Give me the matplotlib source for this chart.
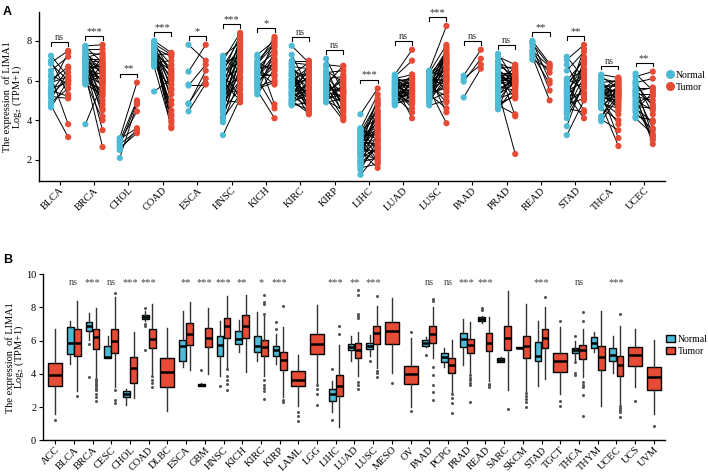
import matplotlib
matplotlib.use('Agg')
import matplotlib.pyplot as plt
from matplotlib.lines import Line2D
from matplotlib.patches import Patch

plt.rcParams['font.family'] = ['Liberation Serif', 'DejaVu Serif']
plt.rcParams['mathtext.fontset'] = 'stix'

NORMAL_C = '#4DBBD5'
TUMOR_C = '#E64B35'

# ---------------- panel A: paired samples ----------------
a_cats = ['BLCA', 'BRCA', 'CHOL', 'COAD', 'ESCA', 'HNSC', 'KICH', 'KIRC', 'KIRP',
          'LIHC', 'LUAD', 'LUSC', 'PAAD', 'PRAD', 'READ', 'STAD', 'THCA', 'UCEC']
a_sig = ['ns', '***', '**', '***', '*', '***', '*', 'ns', 'ns',
         '***', 'ns', '***', 'ns', 'ns', '**', '**', 'ns', '**']

a_normal = [
    [7.25, 7.0, 6.9, 6.85, 6.5, 6.3, 6.2, 6.0, 5.9, 5.7, 5.6, 5.5, 5.4, 5.3, 5.2, 5.1, 4.9, 4.75, 4.65],
    [7.75, 7.7, 7.6, 7.5, 7.45, 7.4, 7.3, 7.25, 7.2, 7.1, 7.05, 7.0, 6.95, 6.9, 6.85, 6.8, 6.75, 6.7, 6.65, 6.6,
     6.55, 6.5, 6.45, 6.4, 6.35, 6.3, 6.25, 6.2, 6.1, 6.05, 6.0, 5.95, 5.9, 5.85, 5.8, 6.9, 7.15, 6.6, 3.8, 7.0],
    [3.1, 3.05, 2.95, 2.9, 2.8, 2.7, 2.6, 2.5, 2.1],
    [8.0, 7.95, 7.9, 7.85, 7.8, 7.75, 7.7, 7.65, 7.6, 7.55, 7.5, 7.45, 7.4, 7.35, 7.3, 7.25, 7.2, 7.15, 7.1, 7.0,
     6.9, 6.8, 6.7, 5.45, 7.6, 7.3],
    [7.8, 6.45, 5.8, 5.75, 4.85, 4.8, 4.45],
    [7.25, 7.1, 7.0, 6.9, 6.8, 6.7, 6.6, 6.5, 6.4, 6.3, 6.2, 6.1, 6.0, 5.9, 5.8, 5.7, 5.6, 5.5, 5.4, 5.3,
     5.2, 5.1, 5.0, 4.9, 4.8, 4.7, 4.6, 4.5, 4.4, 4.2, 4.1, 4.0, 3.9, 3.25],
    [7.3, 7.2, 7.0, 6.9, 6.8, 6.7, 6.6, 6.5, 6.4, 6.3, 6.2, 6.1, 6.0, 5.9, 5.8, 5.7, 5.6, 5.5, 5.4, 5.3,
     6.85, 6.45, 6.25, 5.95],
    [7.75, 7.3, 7.0, 6.9, 6.85, 6.8, 6.7, 6.6, 6.5, 6.4, 6.35, 6.3, 6.2, 6.1, 6.05, 6.0, 5.95, 5.9, 5.85, 5.8,
     5.75, 5.7, 5.6, 5.5, 5.45, 5.4, 5.3, 5.25, 5.2, 5.1, 5.05, 5.0, 4.95, 4.9, 4.85, 4.8, 4.75, 6.25, 5.65, 5.35],
    [7.1, 6.8, 6.7, 6.5, 6.4, 6.3, 6.2, 6.1, 6.0, 5.9, 5.8, 5.7, 5.65, 5.6, 5.5, 5.45, 5.4, 5.3, 5.25, 5.2,
     5.1, 5.05, 5.0, 4.95, 4.9, 6.05, 5.55, 5.35],
    [4.3, 3.6, 3.55, 3.5, 3.45, 3.4, 3.35, 3.3, 3.25, 3.2, 3.1, 3.05, 3.0, 2.95, 2.9, 2.85, 2.8, 2.75, 2.7, 2.6,
     2.55, 2.5, 2.45, 2.4, 2.3, 2.25, 2.2, 2.1, 2.0, 1.95, 1.9, 1.8, 1.7, 1.6, 1.5, 1.25, 2.65, 3.15, 2.35, 1.85],
    [6.3, 6.25, 6.2, 6.15, 6.1, 6.05, 6.0, 5.95, 5.9, 5.85, 5.8, 5.75, 5.7, 5.65, 5.6, 5.55, 5.5, 5.45, 5.4, 5.35,
     5.3, 5.25, 5.2, 5.15, 5.1, 5.05, 5.0, 4.95, 4.9, 4.85, 4.8, 4.75, 5.6, 5.4, 5.8, 5.2, 6.0, 5.5, 5.3, 5.7],
    [6.5, 6.45, 6.4, 6.35, 6.3, 6.25, 6.2, 6.15, 6.1, 6.0, 5.95, 5.9, 5.85, 5.8, 5.75, 5.7, 5.65, 5.6, 5.55, 5.5,
     5.45, 5.4, 5.35, 5.3, 5.25, 5.2, 5.15, 5.1, 5.05, 5.0, 4.95, 4.9, 4.75, 5.8, 6.05, 5.6, 5.35, 6.3],
    [6.25, 6.1, 5.95, 5.15],
    [7.35, 7.2, 7.0, 6.9, 6.8, 6.7, 6.6, 6.5, 6.45, 6.4, 6.3, 6.25, 6.2, 6.1, 6.05, 6.0, 5.95, 5.9, 5.8, 5.7,
     5.6, 5.5, 5.4, 5.3, 5.2, 5.1, 5.0, 4.85, 4.75, 4.6, 4.55, 6.15, 6.35, 5.85, 6.55, 4.7],
    [8.0, 7.95, 7.85, 7.7, 7.5, 7.4, 7.3, 7.2, 7.05],
    [7.2, 7.05, 6.8, 6.5, 6.1, 6.0, 5.9, 5.8, 5.65, 5.5, 5.4, 5.3, 5.2, 5.1, 5.0, 4.9, 4.8, 4.7, 4.6, 4.5,
     4.4, 4.3, 4.1, 3.7, 3.25, 5.55, 5.25],
    [6.3, 6.2, 6.1, 6.0, 5.9, 5.8, 5.75, 5.7, 5.65, 5.6, 5.55, 5.5, 5.45, 5.4, 5.35, 5.3, 5.25, 5.2, 5.15, 5.1,
     5.05, 5.0, 4.95, 4.9, 4.8, 4.7, 4.65, 4.6, 4.2, 4.1, 4.05, 3.95, 5.5, 5.3, 5.1, 5.7, 4.85, 5.2],
    [6.35, 6.2, 6.0, 5.9, 5.75, 5.6, 5.5, 5.4, 5.3, 5.25, 5.2, 5.1, 5.0, 4.9, 4.8, 4.7, 4.6, 4.5, 4.4, 4.2,
     4.1, 5.85, 5.45],
]

a_tumor = [
    [6.2, 5.3, 7.5, 6.0, 7.2, 5.8, 3.8, 6.7, 6.2, 7.4, 5.9, 5.2, 6.6, 6.1, 5.1, 6.4, 5.6, 3.15, 6.0],
    [7.8, 6.9, 7.6, 6.2, 5.5, 7.3, 6.8, 4.8, 6.6, 7.1, 5.9, 6.4, 4.2, 7.0, 5.2, 6.5, 6.0, 3.5, 6.7, 5.7,
     6.3, 4.5, 6.9, 5.0, 6.1, 2.65, 5.8, 6.4, 5.4, 7.2, 4.0, 6.2, 5.6, 6.8, 5.3, 4.6, 7.4, 6.0, 5.9, 6.6],
    [5.9, 3.6, 5.0, 4.45, 3.45, 4.9, 3.35, 3.55, 4.8],
    [7.4, 6.3, 5.5, 7.3, 4.2, 6.8, 5.0, 7.2, 3.9, 6.0, 4.5, 6.6, 3.6, 5.8, 7.35, 4.0, 6.2, 5.3, 6.5, 4.8,
     7.0, 5.6, 3.7, 6.1, 6.4, 4.3],
    [7.0, 7.8, 5.8, 6.8, 6.1, 6.5, 5.85],
    [7.9, 6.5, 8.4, 7.2, 5.8, 8.1, 7.6, 6.9, 8.3, 5.2, 7.8, 6.6, 7.4, 5.0, 8.0, 7.1, 6.2, 7.7, 5.5, 6.8,
     8.2, 7.3, 4.9, 6.0, 7.5, 6.4, 7.0, 5.6, 7.9, 6.7, 5.3, 7.2, 6.1, 5.1],
    [8.0, 4.8, 7.9, 6.5, 8.2, 7.4, 6.8, 5.8, 7.7, 6.3, 7.1, 4.6, 8.1, 6.9, 7.0, 6.0, 5.9, 4.1, 7.5, 6.6,
     7.8, 6.2, 7.3, 6.7],
    [6.9, 5.6, 7.0, 6.8, 5.2, 4.5, 6.6, 5.9, 6.2, 5.0, 4.4, 6.9, 5.7, 6.4, 5.3, 4.8, 6.0, 6.7, 5.4, 4.6,
     6.1, 5.1, 4.3, 6.5, 5.8, 4.9, 6.3, 5.5, 4.7, 6.85, 5.95, 4.35, 5.25, 6.0, 4.55, 5.65, 4.9, 5.15, 6.45, 5.75],
    [5.4, 6.7, 4.6, 5.9, 6.5, 4.2, 5.3, 6.2, 4.8, 5.0, 6.75, 4.4, 5.6, 5.5, 4.1, 6.0, 5.2, 4.9, 6.3, 5.7,
     4.0, 5.35, 4.5, 5.8, 5.1, 4.7, 5.45, 6.1],
    [5.6, 3.0, 5.3, 4.1, 2.5, 4.9, 3.6, 2.2, 4.5, 3.3, 5.0, 2.0, 3.9, 4.7, 2.8, 3.4, 1.9, 4.3, 3.1, 5.1,
     2.4, 3.7, 4.0, 1.6, 2.9, 3.5, 4.4, 2.6, 3.2, 4.8, 2.1, 3.8, 2.7, 1.8, 3.0, 2.3, 4.2, 3.5, 2.0, 2.6],
    [7.55, 5.2, 7.0, 5.8, 6.3, 4.9, 5.6, 6.1, 5.0, 5.9, 4.1, 6.2, 5.4, 5.7, 4.6, 6.0, 5.3, 5.5, 4.8, 6.3,
     5.1, 5.6, 4.4, 5.8, 6.25, 5.0, 5.4, 5.95, 4.95, 5.65, 5.2, 6.1, 5.5, 4.85, 5.75, 5.3, 6.05, 5.15, 5.45, 5.9],
    [8.75, 6.2, 7.8, 5.5, 7.0, 6.8, 4.4, 7.5, 6.0, 5.8, 7.3, 6.6, 4.9, 7.1, 6.4, 5.2, 7.6, 6.9, 3.85, 6.1,
     7.2, 5.6, 6.7, 4.6, 7.4, 6.3, 5.9, 6.5, 7.0, 5.4, 6.2, 7.7, 5.0, 6.6, 6.0, 6.85, 5.7, 7.25],
    [7.55, 6.8, 7.1, 6.6],
    [6.0, 6.8, 5.9, 6.5, 6.2, 4.2, 6.7, 5.6, 6.1, 6.4, 5.8, 6.3, 5.1, 6.6, 5.95, 6.05, 6.2, 5.7, 6.45, 5.5,
     6.0, 2.3, 6.25, 5.85, 6.35, 5.4, 6.1, 5.2, 4.3, 6.55, 5.75, 6.15, 5.65, 6.0, 5.9, 5.3],
    [6.85, 6.0, 6.75, 5.5, 6.7, 6.4, 5.85, 5.0, 6.6],
    [6.1, 7.8, 5.2, 7.45, 5.6, 7.0, 6.6, 4.5, 7.2, 5.9, 6.8, 4.1, 6.3, 7.6, 5.4, 6.5, 5.1, 6.9, 4.4, 6.2,
     5.7, 7.1, 5.8, 6.0, 5.0, 6.4, 5.3],
    [6.15, 5.6, 5.9, 4.9, 6.0, 5.3, 5.7, 4.5, 5.8, 5.4, 6.1, 5.1, 5.5, 3.1, 5.95, 5.2, 4.7, 5.65, 5.0, 6.05,
     3.8, 5.45, 4.3, 5.75, 2.7, 5.35, 5.55, 4.0, 5.25, 5.85, 3.5, 5.15, 4.8, 5.6, 5.05, 5.4, 4.6, 5.3],
    [5.5, 6.45, 4.3, 6.1, 3.2, 5.6, 4.8, 3.6, 5.3, 2.8, 5.0, 3.1, 4.5, 5.2, 3.0, 4.6, 3.9, 5.4, 3.5, 4.0,
     3.3, 4.7, 5.65],
]

# ---------------- panel B: box summaries (whislo, q1, med, q3, whishi) ----------------
b_cats = ['ACC', 'BLCA', 'BRCA', 'CESC', 'CHOL', 'COAD', 'DLBC', 'ESCA', 'GBM', 'HNSC', 'KICH',
          'KIRC', 'KIRP', 'LAML', 'LGG', 'LIHC', 'LUAD', 'LUSC', 'MESO', 'OV', 'PAAD', 'PCPG',
          'PRAD', 'READ', 'SARC', 'SKCM', 'STAD', 'TGCT', 'THCA', 'THYM', 'UCEC', 'UCS', 'UVM']
b_sig = ['', 'ns', '***', 'ns', '***', '***', '', '**', '***', '***', '**',
         '*', '***', '', '', '***', '**', '***', '', '', 'ns', 'ns',
         '***', '***', '', '', '***', '', 'ns', '', '***', '', '']

b_tumor = [
    (1.6, 3.27, 3.9, 4.67, 6.71), (2.95, 5.1, 5.88, 6.68, 8.41), (3.8, 5.49, 6.2, 6.68, 7.98),
    (3.2, 5.25, 5.96, 6.68, 8.6), (2.53, 3.47, 4.35, 5.0, 6.5), (3.96, 5.57, 6.08, 6.68, 8.18),
    (1.76, 3.2, 4.1, 4.94, 6.76), (4.25, 5.76, 6.39, 7.04, 8.3), (4.0, 5.59, 6.16, 6.75, 7.94),
    (4.35, 6.16, 6.86, 7.37, 8.67), (4.12, 6.16, 6.88, 7.55, 8.75), (3.86, 5.1, 5.63, 6.02, 7.49),
    (2.6, 4.24, 4.84, 5.33, 6.82), (2.04, 3.24, 3.6, 4.2, 5.14), (3.41, 5.18, 5.78, 6.39, 8.12),
    (0.82, 2.69, 3.27, 3.94, 5.73), (3.86, 4.98, 5.45, 5.88, 6.5), (4.35, 5.82, 6.43, 6.9, 8.08),
    (4.06, 5.82, 6.59, 7.14, 8.57), (2.0, 3.37, 4.0, 4.49, 6.18), (4.94, 5.88, 6.39, 6.86, 8.04),
    (2.85, 4.06, 4.51, 4.94, 6.02), (4.06, 5.27, 5.73, 6.08, 7.1), (3.57, 5.37, 5.88, 6.45, 7.43),
    (3.02, 5.43, 6.18, 6.9, 8.96), (2.98, 4.98, 5.69, 6.25, 8.18), (3.71, 5.53, 6.18, 6.71, 8.04),
    (2.78, 4.12, 4.75, 5.27, 6.82), (3.8, 4.9, 5.41, 5.76, 6.71), (2.08, 4.22, 5.02, 5.69, 7.75),
    (2.19, 3.86, 4.55, 5.1, 6.9), (3.22, 4.49, 5.14, 5.61, 6.71), (1.57, 3.02, 3.82, 4.41, 6.06),
]
b_tumor_fliers = [
    [1.2], [2.68], [3.7, 3.6, 3.5, 3.4, 3.3, 3.2, 3.1, 3.0, 2.8, 2.6, 2.35],
    [8.85, 3.0, 2.45, 2.25], [], [3.85, 3.65, 3.45, 3.2],
    [], [], [],
    [4.3, 3.86, 3.63, 3.39, 3.04], [], [8.75, 8.3, 8.2, 7.6, 3.6, 3.3, 3.15, 2.95, 2.5],
    [8.08, 2.45, 2.3], [1.7, 1.44, 1.19], [3.3, 3.1, 2.8, 2.12],
    [6.86, 6.39], [9.05, 8.75, 7.6, 7.5, 7.35, 3.5, 3.3, 3.1], [8.67, 4.2, 4.05, 3.8],
    [3.47], [6.51, 1.76], [8.53, 8.37, 4.39, 3.92, 3.33, 2.88, 2.45],
    [2.78, 2.55, 2.24, 1.67], [3.9, 3.75, 3.6, 3.45, 3.3, 2.29], [3.4, 3.3, 3.2],
    [1.86], [2.82, 2.65, 2.47, 2.3, 1.99], [8.63],
    [7.18, 2.39, 2.04], [7.69, 7.2, 3.51, 3.35, 3.18, 2.73, 1.47], [],
    [7.6, 2.05, 1.95, 1.85, 1.7, 1.4], [2.35], [0.88],
]
b_normal = [
    None, (4.6, 5.2, 5.88, 6.8, 7.16), (6.06, 6.57, 6.86, 7.1, 7.67),
    (4.94, 4.96, 5.03, 5.65, 6.27), (2.1, 2.63, 2.8, 2.98, 3.1), (7.15, 7.3, 7.43, 7.55, 7.8),
    None, (4.43, 4.8, 5.69, 6.06, 7.78), (3.25, 3.28, 3.34, 3.4, 3.45),
    (3.86, 5.1, 5.75, 6.27, 7.2), (5.29, 5.8, 6.08, 6.57, 7.26), (4.75, 5.29, 5.69, 6.27, 7.69),
    (4.6, 5.1, 5.41, 5.67, 6.4), None, None,
    (1.7, 2.39, 2.8, 3.06, 3.57), (4.8, 5.43, 5.63, 5.78, 6.3), (5.1, 5.47, 5.69, 5.88, 6.31),
    None, None, (5.6, 5.69, 5.88, 6.06, 6.2),
    (4.41, 4.69, 5.02, 5.25, 5.53), (4.51, 5.59, 6.12, 6.45, 7.29), (7.05, 7.16, 7.29, 7.39, 7.45),
    (4.7, 4.72, 4.82, 4.94, 5.0), (5.55, 5.56, 5.57, 5.59, 5.6), (3.27, 4.8, 5.08, 5.92, 7.16),
    None, (4.85, 5.25, 5.41, 5.57, 6.0), (5.33, 5.57, 5.88, 6.22, 6.49),
    (4.06, 4.75, 5.14, 5.53, 6.27), None, None,
]
b_normal_fliers = [
    [], [], [5.8, 3.8], [], [], [7.95, 7.0, 6.9, 5.43], [], [], [4.25], [3.24], [], [],
    [7.1, 6.7], [], [], [4.3, 1.25], [], [4.75], [], [], [5.14], [], [], [7.98, 7.84],
    [], [], [], [], [6.3, 4.7, 4.05, 3.9], [], [], [], [],
]

fig = plt.figure(figsize=(7.08, 4.75), dpi=100)
axA = fig.add_axes([0.055, 0.619, 0.884, 0.356])
axB = fig.add_axes([0.061, 0.073, 0.878, 0.350])

ylab = 'The expression  of LIMA1\nLog$_2$ (TPM+1)'

# ---- panel A ----
off = 0.25
for i, (nv, tv) in enumerate(zip(a_normal, a_tumor)):
    for n, t in zip(nv, tv):
        axA.plot([i - off, i + off], [n, t], color='black', lw=0.7, zorder=2)
    axA.scatter([i - off] * len(nv), nv, s=20, color=NORMAL_C, edgecolor='none', zorder=3)
    axA.scatter([i + off] * len(tv), tv, s=20, color=TUMOR_C, edgecolor='none', zorder=3)
    top = max(max(nv), max(tv)) + 0.43
    axA.plot([i - off, i - off, i + off, i + off], [top - 0.17, top, top, top - 0.17],
             color='black', lw=0.8)
    axA.text(i, top + 0.02, a_sig[i], ha='center', va='bottom', fontsize=7.5, color='#333333')

axA.set_xlim(-0.6, len(a_cats) - 0.4)
axA.set_ylim(0.94, 9.46)
axA.set_yticks([2, 4, 6, 8])
axA.set_xticks(range(len(a_cats)))
axA.set_xticklabels(a_cats, rotation=45, ha='right', rotation_mode='anchor', fontsize=7)
axA.set_ylabel(ylab, fontsize=7.5, linespacing=0.8)
axA.yaxis.set_label_coords(-0.024, 0.5)
axA.legend(handles=[Line2D([], [], marker='o', ls='', color=NORMAL_C, ms=5.5, label='Normal'),
                    Line2D([], [], marker='o', ls='', color=TUMOR_C, ms=5.5, label='Tumor')],
           loc='center left', bbox_to_anchor=(1.0, 0.59), frameon=False, fontsize=7,
           handlelength=0.8, handletextpad=0.2, labelspacing=0.3, borderaxespad=0, borderpad=0.1)

# ---- panel B ----
box_kw = dict(patch_artist=True, showfliers=True, manage_ticks=False,
              medianprops=dict(color='black', lw=1.8),
              whiskerprops=dict(color='#333333', lw=1.0),
              capprops=dict(lw=0),
              flierprops=dict(marker='o', markersize=2.2, markerfacecolor='#555555',
                              markeredgecolor='none'))


def stats(q, fl, label):
    return dict(whislo=q[0], q1=q[1], med=q[2], q3=q[3], whishi=q[4], fliers=fl, label=label)


for i, cat in enumerate(b_cats):
    if b_normal[i] is None:
        res = axB.bxp([stats(b_tumor[i], b_tumor_fliers[i], cat)], positions=[i], widths=0.75, **box_kw)
        res['boxes'][0].set(facecolor=TUMOR_C, edgecolor='black', lw=1.0)
    else:
        res = axB.bxp([stats(b_normal[i], b_normal_fliers[i], cat)], positions=[i - 0.19],
                      widths=0.36, **box_kw)
        res['boxes'][0].set(facecolor=NORMAL_C, edgecolor='black', lw=1.0)
        res = axB.bxp([stats(b_tumor[i], b_tumor_fliers[i], cat)], positions=[i + 0.19],
                      widths=0.36, **box_kw)
        res['boxes'][0].set(facecolor=TUMOR_C, edgecolor='black', lw=1.0)
    if b_sig[i]:
        axB.text(i, 9.2, b_sig[i], ha='center', va='bottom', fontsize=7.5, color='#444444')

axB.set_xlim(-0.64, len(b_cats) - 0.41)
axB.set_ylim(0, 10)
axB.set_yticks([0, 2, 4, 6, 8, 10])
axB.set_xticks(range(len(b_cats)))
axB.set_xticklabels(b_cats, rotation=45, ha='right', rotation_mode='anchor', fontsize=6.2)
axB.set_ylabel(ylab, fontsize=7.5, linespacing=0.8)
axB.yaxis.set_label_coords(-0.027, 0.5)
axB.legend(handles=[Patch(facecolor=NORMAL_C, edgecolor='black', label='Normal'),
                    Patch(facecolor=TUMOR_C, edgecolor='black', label='Tumor')],
           loc='center left', bbox_to_anchor=(1.0, 0.57), frameon=False, fontsize=7,
           handlelength=0.9, handleheight=0.8, handletextpad=0.3, labelspacing=0.3,
           borderaxespad=0, borderpad=0.1)

for ax in (axA, axB):
    ax.spines['top'].set_visible(False)
    ax.spines['right'].set_visible(False)
    ax.spines['left'].set_linewidth(1.0)
    ax.spines['bottom'].set_linewidth(1.0)
    ax.tick_params(axis='both', length=3, width=0.8, labelsize=7.5, pad=2)
    ax.tick_params(axis='x', pad=0.5)

fig.text(0.004, 0.988, 'A', fontsize=9, weight='bold', family='Liberation Sans', va='top')
fig.text(0.004, 0.465, 'B', fontsize=9, weight='bold', family='Liberation Sans', va='top')

fig.savefig('out.png', dpi=100)
